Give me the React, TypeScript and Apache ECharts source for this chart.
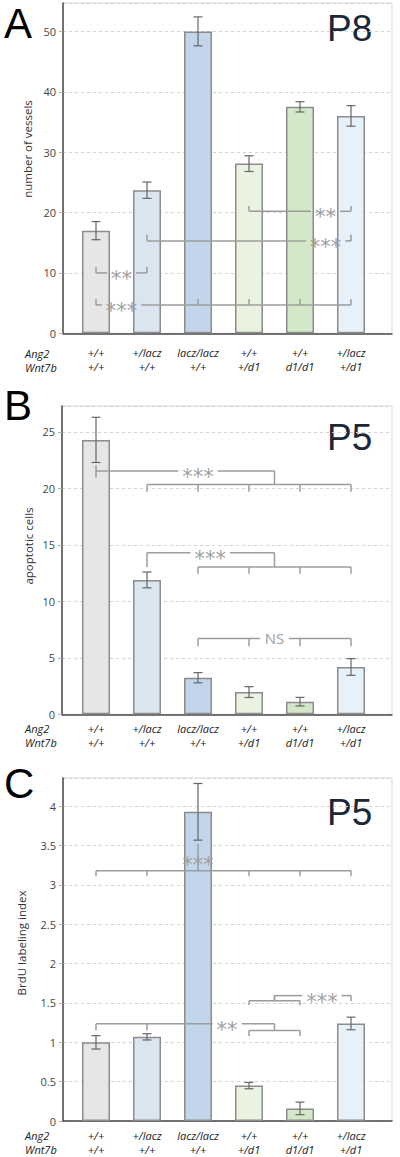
import React, { useEffect, useRef } from "react";
import * as echarts from "echarts";

// ---------- data ----------
const ang2 = ["+/+", "+/lacz", "lacz/lacz", "+/+", "+/+", "+/lacz"];
const wnt7b = ["+/+", "+/+", "+/+", "+/d1", "d1/d1", "+/d1"];
const barColors = ["#e6e6e6", "#dbe5f0", "#c3d5ea", "#eaf3e0", "#d3e8c8", "#e7f1f9"];

const vesselsP8 = [17.0, 23.7, 50.0, 28.1, 37.5, 36.0];
const vesselsP8Err = [1.5, 1.35, 2.4, 1.3, 0.85, 1.7];
const apoptoticP5 = [24.3, 11.9, 3.24, 1.97, 1.12, 4.19];
const apoptoticP5Err = [2.0, 0.7, 0.45, 0.48, 0.38, 0.74];
const brduP5 = [1.0, 1.07, 3.93, 0.45, 0.16, 1.24];
const brduP5Err = [0.085, 0.04, 0.36, 0.04, 0.08, 0.08];

type Bracket = { y: number; from: number; to: number; ticks: number[]; lo: number; hi: number };
type Link = { x: number; y1: number; y2: number };
type Mark = { x: number; y: number; text: string; cut: boolean };

// significance brackets (category index, value units)
const bracketsA: Bracket[] = [
  { y: 20.2, from: 3, to: 5, ticks: [3, 5], lo: 0, hi: 0.9 },
  { y: 15.3, from: 1, to: 5, ticks: [1, 5], lo: 0, hi: 1.0 },
  { y: 10.0, from: 0, to: 1, ticks: [0, 1], lo: 0, hi: 1.0 },
  { y: 4.7, from: 0, to: 5, ticks: [0, 2, 3, 4, 5], lo: 0, hi: 1.0 },
];
const linksA: Link[] = [];
const marksA: Mark[] = [
  { x: 4.5, y: 20.2, text: "**", cut: true },
  { x: 4.5, y: 15.3, text: "***", cut: true },
  { x: 0.5, y: 10.0, text: "**", cut: true },
  { x: 0.5, y: 4.7, text: "***", cut: true },
];

const bracketsB: Bracket[] = [
  { y: 20.35, from: 1, to: 5, ticks: [1, 2, 3, 4, 5], lo: -0.65, hi: 0 },
  { y: 21.55, from: 0, to: 3.5, ticks: [0], lo: -0.6, hi: 0.5 },
  { y: 13.05, from: 2, to: 5, ticks: [2, 3, 4, 5], lo: -0.6, hi: 0 },
  { y: 14.3, from: 1, to: 3.5, ticks: [1], lo: -1.25, hi: 0 },
  { y: 6.72, from: 2, to: 5, ticks: [2, 3, 4, 5], lo: -0.7, hi: 0 },
];
const linksB: Link[] = [
  { x: 3.5, y1: 20.35, y2: 21.55 },
  { x: 3.5, y1: 13.05, y2: 14.3 },
];
const marksB: Mark[] = [
  { x: 2.0, y: 21.55, text: "***", cut: true },
  { x: 2.24, y: 14.3, text: "***", cut: true },
  { x: 3.5, y: 6.72, text: "NS", cut: true },
];

const bracketsC: Bracket[] = [
  { y: 3.18, from: 0, to: 5, ticks: [0, 1, 3, 4, 5], lo: -0.07, hi: 0 },
  { y: 1.235, from: 0, to: 3.5, ticks: [0, 1, 3.5], lo: -0.085, hi: 0 },
  { y: 1.15, from: 3, to: 4, ticks: [3, 4], lo: -0.07, hi: 0 },
  { y: 1.594, from: 3.5, to: 5, ticks: [3.5, 5], lo: -0.07, hi: 0 },
  { y: 1.53, from: 3, to: 4, ticks: [3, 4], lo: -0.055, hi: 0 },
];
const linksC: Link[] = [
  { x: 2, y1: 3.18, y2: 3.52 },
  { x: 3.5, y1: 1.53, y2: 1.594 },
];
const marksC: Mark[] = [
  { x: 2, y: 3.33, text: "***", cut: false },
  { x: 2.57, y: 1.235, text: "**", cut: true },
  { x: 4.43, y: 1.594, text: "***", cut: true },
];

// ---------- layout ----------
const panels = [
  {
    letter: "A", title: "P8", yName: "number of vessels",
    top: 3, bottom: 333.3, axisX: 63, max: 54.7, interval: 10,
    values: vesselsP8, errors: vesselsP8Err,
    brackets: bracketsA, links: linksA, marks: marksA,
    labelMargin: 12.5, letterY: 23, titleY: 28, yNameX: 27, yNameY: 149, rowY: 353,
  },
  {
    letter: "B", title: "P5", yName: "apoptotic cells",
    top: 406, bottom: 714.3, axisX: 62, max: 27.3, interval: 5,
    values: apoptoticP5, errors: apoptoticP5Err,
    brackets: bracketsB, links: linksB, marks: marksB,
    labelMargin: 7, letterY: 405, titleY: 437, yNameX: 28, yNameY: 546, rowY: 728,
  },
  {
    letter: "C", title: "P5", yName: "BrdU labeling index",
    top: 778, bottom: 1121, axisX: 63, max: 4.36, interval: 0.5,
    values: brduP5, errors: brduP5Err,
    brackets: bracketsC, links: linksC, marks: marksC,
    labelMargin: 7, letterY: 783, titleY: 812.5, yNameX: 21, yNameY: 943, rowY: 1135,
  },
];

const FONT = '"Open Sans", "Noto Sans", sans-serif';
const RIGHT = 392;
const BAR_LEFT = 70.5;
const BAR_W = 306;

function buildOption() {
  const grid: any[] = [];
  const xAxis: any[] = [];
  const yAxis: any[] = [];
  const series: any[] = [];
  const graphic: any[] = [];

  panels.forEach((p, k) => {
    const fg = 2 * k;
    const bg = 2 * k + 1;
    grid.push({
      left: p.axisX, top: p.top, width: RIGHT - p.axisX, height: p.bottom - p.top,
      show: true, borderColor: "#d9d9d9", borderWidth: 1, backgroundColor: "#ffffff",
    });
    grid.push({ left: BAR_LEFT, top: p.top, width: BAR_W, height: p.bottom - p.top });

    xAxis.push({
      type: "value", gridIndex: fg, min: 0, max: 1,
      axisLine: { show: true, onZero: false, lineStyle: { color: "#4a4a4a", width: 1.5 } },
      axisTick: { show: false }, axisLabel: { show: false }, splitLine: { show: false },
    });
    xAxis.push({
      type: "category", gridIndex: bg,
      data: ang2.map((a, i) => `${a}\n${wnt7b[i]}`),
      axisLine: { show: false }, axisTick: { show: false }, splitLine: { show: false },
      axisLabel: {
        margin: p.labelMargin, fontFamily: FONT, fontStyle: "italic", fontSize: 11,
        lineHeight: 14, color: "#222", interval: 0,
      },
    });
    yAxis.push({
      type: "value", gridIndex: fg, min: 0, max: p.max, interval: p.interval,
      axisLine: { show: true, lineStyle: { color: "#4a4a4a", width: 1.5 } },
      axisTick: { show: true, length: 4, lineStyle: { color: "#b0b0b0" } },
      axisLabel: { fontFamily: FONT, fontSize: 11, color: "#444", margin: 7, showMaxLabel: false },
      splitLine: { show: true, lineStyle: { color: "#d2d2d2", type: [3, 3], width: 1 } },
    });
    yAxis.push({ type: "value", gridIndex: bg, min: 0, max: p.max, show: false, splitLine: { show: false } });

    series.push({
      type: "bar", xAxisIndex: bg, yAxisIndex: bg, barWidth: 28,
      data: p.values.map((v, i) => ({
        value: v,
        itemStyle: { color: barColors[i], borderColor: "#8c8c8c", borderWidth: 1.5 },
      })),
      silent: true,
    });

    series.push({
      type: "custom", xAxisIndex: bg, yAxisIndex: bg, silent: true, z: 5,
      data: p.values.map((v, i) => [i, v, p.errors[i]]),
      renderItem: (params: any, api: any) => {
        const i = api.value(0), v = api.value(1), e = api.value(2);
        const top = api.coord([i, v + e]);
        const bot = api.coord([i, v - e]);
        const hw = 4.5;
        const st = { stroke: "#666", lineWidth: 1.2 };
        return {
          type: "group",
          children: [
            { type: "line", shape: { x1: top[0], y1: top[1], x2: bot[0], y2: bot[1] }, style: st },
            { type: "line", shape: { x1: top[0] - hw, y1: top[1], x2: top[0] + hw, y2: top[1] }, style: st },
            { type: "line", shape: { x1: bot[0] - hw, y1: bot[1], x2: bot[0] + hw, y2: bot[1] }, style: st },
          ],
        };
      },
    });

    const brackets = p.brackets, links = p.links, marks = p.marks;
    series.push({
      type: "custom", xAxisIndex: bg, yAxisIndex: bg, silent: true, z: 10,
      data: [[0, 0]],
      renderItem: (params: any, api: any) => {
        const px = (xi: number) => {
          const f = Math.floor(xi), c = Math.ceil(xi);
          const a = api.coord([f, 0])[0];
          const b = api.coord([c, 0])[0];
          return a + (b - a) * (xi - f);
        };
        const py = (v: number) => api.coord([0, v])[1];
        const st = { stroke: "#9c9c9c", lineWidth: 1.5, fill: null };
        const children: any[] = [];
        const hline = (x1: number, x2: number, y: number) =>
          children.push({ type: "line", shape: { x1, y1: y, x2, y2: y }, style: st });
        brackets.forEach((b) => {
          const y = py(b.y);
          let segs: [number, number][] = [[px(b.from), px(b.to)]];
          marks.forEach((m) => {
            if (!m.cut || Math.abs(m.y - b.y) > 1e-6) return;
            const cx = px(m.x);
            const half = (m.text.length * 10.5 + 8) / 2;
            const next: [number, number][] = [];
            segs.forEach(([a, c]) => {
              if (cx + half <= a || cx - half >= c) next.push([a, c]);
              else {
                if (cx - half > a) next.push([a, cx - half]);
                if (cx + half < c) next.push([cx + half, c]);
              }
            });
            segs = next;
          });
          segs.forEach(([a, c]) => hline(a, c, y));
          b.ticks.forEach((t) => {
            const x = px(t);
            children.push({ type: "line", shape: { x1: x, y1: py(b.y + b.lo), x2: x, y2: py(b.y + b.hi) }, style: st });
          });
        });
        links.forEach((l) => {
          const x = px(l.x);
          children.push({ type: "line", shape: { x1: x, y1: py(l.y1), x2: x, y2: py(l.y2) }, style: st });
        });
        marks.forEach((m) => {
          const star = m.text.indexOf("*") === 0;
          children.push({
            type: "text", x: px(m.x), y: py(m.y) + (star ? 6 : 0),
            style: {
              text: m.text, fill: "#a0a0a0",
              font: star ? '21px "DejaVu Sans"' : `15px ${FONT}`,
              align: "center", verticalAlign: "middle",
            },
          });
        });
        return { type: "group", children };
      },
    });

    graphic.push(
      { type: "text", x: 4, y: p.letterY, style: { text: p.letter, font: '42px "Liberation Sans", Arial', fill: "#000", align: "left", verticalAlign: "middle" } },
      { type: "text", x: 327, y: p.titleY, style: { text: p.title, font: '37px "Liberation Sans", Arial', fill: "#1a2838", align: "left", verticalAlign: "middle" } },
      { type: "text", x: p.yNameX, y: p.yNameY, rotation: Math.PI / 2, style: { text: p.yName, font: `11.5px ${FONT}`, fill: "#333", align: "center", verticalAlign: "middle" } },
      { type: "text", x: 25, y: p.rowY, style: { text: "Ang2", font: `italic 11px ${FONT}`, fill: "#222", align: "left", verticalAlign: "middle" } },
      { type: "text", x: 25, y: p.rowY + 14, style: { text: "Wnt7b", font: `italic 11px ${FONT}`, fill: "#222", align: "left", verticalAlign: "middle" } },
    );
  });

  return { animation: false, backgroundColor: "#ffffff", grid, xAxis, yAxis, series, graphic };
}

export default function App() {
  const ref = useRef<HTMLDivElement>(null);
  useEffect(() => {
    if (!ref.current) return;
    const chart = echarts.init(ref.current, undefined, { renderer: "svg" });
    chart.setOption(buildOption() as any);
    return () => chart.dispose();
  }, []);
  return (
    <div
      ref={ref}
      style={{ position: "absolute", left: 0, top: 0, width: 400, height: 1157 }}
    />
  );
}
